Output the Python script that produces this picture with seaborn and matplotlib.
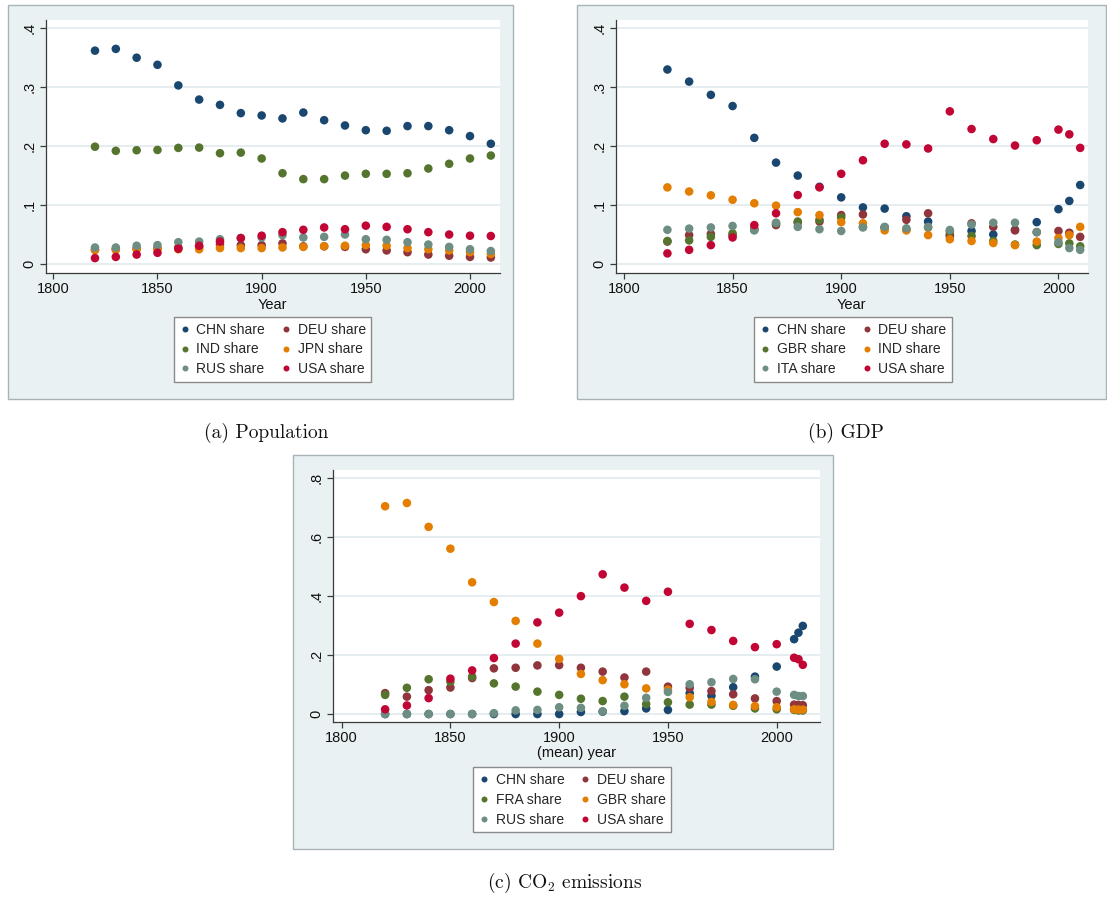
import matplotlib
matplotlib.use("Agg")
import matplotlib.pyplot as plt
from matplotlib.patches import Rectangle
import pandas as pd
import seaborn as sns

# ---------------------------------------------------------------- data
pop_years = [1820, 1830, 1840, 1850, 1860, 1870, 1880, 1890, 1900, 1910,
             1920, 1930, 1940, 1950, 1960, 1970, 1980, 1990, 2000, 2010]
pop_chn = [0.362, 0.365, 0.350, 0.338, 0.303, 0.279, 0.270, 0.256, 0.252, 0.247,
           0.257, 0.244, 0.235, 0.227, 0.226, 0.234, 0.234, 0.227, 0.217, 0.204]
pop_deu = [0.024, 0.025, 0.026, 0.027, 0.028, 0.029, 0.033, 0.032, 0.032, 0.035,
           0.030, 0.030, 0.029, 0.025, 0.023, 0.020, 0.016, 0.014, 0.012, 0.011]
pop_ind = [0.199, 0.192, 0.193, 0.1935, 0.197, 0.1975, 0.188, 0.189, 0.179, 0.154,
           0.144, 0.144, 0.150, 0.153, 0.153, 0.154, 0.162, 0.170, 0.179, 0.184]
pop_jpn = [0.024, 0.024, 0.025, 0.025, 0.025, 0.025, 0.027, 0.027, 0.027, 0.028,
           0.029, 0.030, 0.031, 0.032, 0.031, 0.027, 0.025, 0.023, 0.020, 0.017]
pop_rus = [0.028, 0.028, 0.031, 0.032, 0.037, 0.038, 0.042, 0.044, 0.045, 0.049,
           0.045, 0.046, 0.050, 0.042, 0.041, 0.037, 0.033, 0.029, 0.025, 0.022]
pop_usa = [0.010, 0.012, 0.016, 0.019, 0.026, 0.031, 0.038, 0.044, 0.048, 0.054,
           0.058, 0.062, 0.059, 0.065, 0.063, 0.059, 0.054, 0.050, 0.048, 0.0475]

gdp_years = [1820, 1830, 1840, 1850, 1860, 1870, 1880, 1890, 1900, 1910, 1920,
             1930, 1940, 1950, 1960, 1970, 1980, 1990, 2000, 2005, 2010]
gdp_chn = [0.330, 0.3095, 0.287, 0.268, 0.214, 0.172, 0.150, 0.131, 0.113, 0.096, 0.094,
           0.081, 0.072, 0.047, 0.056, 0.050, 0.058, 0.071, 0.093, 0.107, 0.134]
gdp_deu = [0.038, 0.049, 0.051, 0.049, 0.058, 0.066, 0.070, 0.072, 0.083, 0.084, 0.062,
           0.075, 0.086, 0.050, 0.069, 0.063, 0.057, 0.054, 0.056, 0.053, 0.046]
gdp_gbr = [0.039, 0.040, 0.046, 0.052, 0.060, 0.069, 0.072, 0.075, 0.079, 0.063, 0.062,
           0.058, 0.062, 0.055, 0.0475, 0.039, 0.033, 0.032, 0.034, 0.035, 0.030]
gdp_ind = [0.130, 0.123, 0.1165, 0.109, 0.103, 0.099, 0.088, 0.083, 0.071, 0.069, 0.057,
           0.057, 0.049, 0.042, 0.039, 0.0356, 0.032, 0.038, 0.044, 0.049, 0.063]
gdp_ita = [0.058, 0.060, 0.062, 0.0645, 0.057, 0.070, 0.063, 0.059, 0.056, 0.062, 0.063,
           0.0605, 0.063, 0.0577, 0.067, 0.070, 0.070, 0.054, 0.037, 0.027, 0.024]
gdp_usa = [0.018, 0.024, 0.032, 0.045, 0.066, 0.086, 0.117, 0.130, 0.153, 0.176, 0.204,
           0.203, 0.196, 0.259, 0.229, 0.212, 0.201, 0.210, 0.228, 0.220, 0.197]

co2_years = [1820, 1830, 1840, 1850, 1860, 1870, 1880, 1890, 1900, 1910, 1920,
             1930, 1940, 1950, 1960, 1970, 1980, 1990, 2000, 2008, 2010, 2012]
co2_chn = [0.0, 0.0, 0.0, 0.0, 0.0, 0.0, 0.0, 0.0, 0.0, 0.007, 0.008,
           0.010, 0.019, 0.014, 0.071, 0.062, 0.091, 0.127, 0.161, 0.254, 0.276, 0.299]
co2_deu = [0.071, 0.059, 0.081, 0.090, 0.122, 0.155, 0.157, 0.165, 0.166, 0.157, 0.144,
           0.124, 0.144, 0.093, 0.089, 0.078, 0.067, 0.053, 0.044, 0.032, 0.031, 0.030]
co2_fra = [0.065, 0.089, 0.118, 0.110, 0.127, 0.104, 0.093, 0.076, 0.065, 0.052, 0.044,
           0.059, 0.034, 0.040, 0.032, 0.032, 0.028, 0.019, 0.016, 0.014, 0.012, 0.012]
co2_gbr = [0.705, 0.716, 0.635, 0.561, 0.447, 0.380, 0.316, 0.239, 0.187, 0.136, 0.115,
           0.101, 0.087, 0.083, 0.057, 0.041, 0.031, 0.027, 0.023, 0.016, 0.015, 0.015]
co2_rus = [0.0, 0.0, 0.0, 0.0, 0.0, 0.003, 0.0125, 0.014, 0.023, 0.021, 0.009,
           0.028, 0.055, 0.075, 0.101, 0.108, 0.119, 0.118, 0.076, 0.065, 0.061, 0.061]
co2_usa = [0.016, 0.029, 0.054, 0.120, 0.148, 0.190, 0.239, 0.311, 0.344, 0.400, 0.474,
           0.429, 0.384, 0.415, 0.306, 0.285, 0.248, 0.227, 0.237, 0.191, 0.186, 0.167]

# Stata s2color marker palette (series order 1..6)
stata_colors = ["#1a476f", "#90353b", "#55752f", "#e37e00", "#6e8e84", "#c10534"]

# ---------------------------------------------------------------- style
W, H = 1107, 898
sns.set_theme(style="white")
plt.rcParams["font.family"] = ["Liberation Sans", "DejaVu Sans"]
plt.rcParams["mathtext.fontset"] = "cm"

BG = "#eaf1f3"
GRID = "#e1eaee"
AXIS = "#3a3a3a"

fig = plt.figure(figsize=(W / 100, H / 100), dpi=100)
fig.patch.set_facecolor("white")


def px_box(x0, y0, x1, y1):
    """Pixel box (top-left origin) -> figure-fraction [left, bottom, width, height]."""
    return [x0 / W, 1 - y1 / H, (x1 - x0) / W, (y1 - y0) / H]


def graph_region(x0, y0, x1, y1):
    l, b, w, h = px_box(x0, y0, x1, y1)
    fig.add_artist(Rectangle((l, b), w, h, transform=fig.transFigure,
                             facecolor=BG, edgecolor="#a9b2b6", linewidth=1.0,
                             zorder=-10))


def panel(box, years, names, series, xlim, ylim, yticks, yticklabels,
          xlabel, legend_cx, legend_top):
    ax = fig.add_axes(px_box(*box))
    labels = [f"{n} share" for n in names]
    df = pd.concat([pd.DataFrame({"year": years, "share": vals, "series": lab})
                    for lab, vals in zip(labels, series)], ignore_index=True)
    sns.scatterplot(data=df, x="year", y="share", hue="series", hue_order=labels,
                    palette=stata_colors, s=38, linewidth=0, alpha=1, ax=ax)

    ax.set_facecolor("white")
    ax.set_xlim(*xlim)
    ax.set_ylim(*ylim)
    ax.set_xticks([1800, 1850, 1900, 1950, 2000])
    ax.set_yticks(yticks)
    ax.set_yticklabels(yticklabels, rotation=90, va="center")
    ax.yaxis.grid(True, color=GRID, linewidth=1.2)
    ax.xaxis.grid(False)
    ax.set_axisbelow(True)
    for side in ("top", "right"):
        ax.spines[side].set_visible(False)
    for side in ("left", "bottom"):
        ax.spines[side].set_color(AXIS)
        ax.spines[side].set_linewidth(0.9)
    ax.tick_params(axis="both", direction="out", length=4.5, width=0.9,
                   color=AXIS, labelsize=10.5, labelcolor="#111111", pad=2,
                   left=True, bottom=True)
    ax.set_xlabel(xlabel, fontsize=10.5, labelpad=1, color="#111111")
    ax.set_ylabel("")

    # legend laid out row-wise: (1,2) (3,4) (5,6)
    handles, labs = ax.get_legend_handles_labels()
    ax.get_legend().remove()
    order = [0, 2, 4, 1, 3, 5]
    leg = ax.legend([handles[i] for i in order], [labs[i] for i in order],
                    ncol=2, loc="upper center",
                    bbox_to_anchor=(legend_cx / W, 1 - legend_top / H),
                    bbox_transform=fig.transFigure, borderaxespad=0,
                    frameon=True, fancybox=False,
                    edgecolor="#8a8a8a", framealpha=1, fontsize=10,
                    handlelength=0.8, handletextpad=0.45, columnspacing=1.1,
                    labelspacing=0.42, borderpad=0.4, markerscale=0.7)
    leg.get_frame().set_linewidth(1.0)
    return ax


# (a) population
graph_region(7.5, 5, 512.5, 399)
panel((45.7, 20, 500, 273.3), pop_years, ["CHN", "DEU", "IND", "JPN", "RUS", "USA"],
      [pop_chn, pop_deu, pop_ind, pop_jpn, pop_rus, pop_usa],
      (1796.35, 2014.4), (-0.0158, 0.414), [0, 0.1, 0.2, 0.3, 0.4],
      ["0", ".1", ".2", ".3", ".4"], "Year", 272.5, 317)

# (b) GDP
graph_region(577, 5, 1106, 399)
panel((615.7, 20, 1088, 273.3), gdp_years, ["CHN", "DEU", "GBR", "IND", "ITA", "USA"],
      [gdp_chn, gdp_deu, gdp_gbr, gdp_ind, gdp_ita, gdp_usa],
      (1796.2, 2013.6), (-0.0158, 0.414), [0, 0.1, 0.2, 0.3, 0.4],
      ["0", ".1", ".2", ".3", ".4"], "Year", 853, 317)

# (c) CO2 emissions
graph_region(293, 455, 833, 849)
panel((332.7, 470, 820, 721.7), co2_years, ["CHN", "DEU", "FRA", "GBR", "RUS", "USA"],
      [co2_chn, co2_deu, co2_fra, co2_gbr, co2_rus, co2_usa],
      (1795.9, 2019.9), (-0.026, 0.828), [0, 0.2, 0.4, 0.6, 0.8],
      ["0", ".2", ".4", ".6", ".8"], "(mean) year", 572, 767.3)

# sub-figure captions
cap = dict(family="cmr10", fontsize=14, ha="center", va="center", color="#111111")
fig.text(266 / W, 1 - 433 / H, "(a) Population", **cap)
fig.text(846 / W, 1 - 433 / H, "(b) GDP", **cap)
fig.text(565 / W, 1 - 883 / H, r"(c) CO$_2$ emissions", **cap)

fig.savefig("out.png", dpi=100, facecolor="white")
